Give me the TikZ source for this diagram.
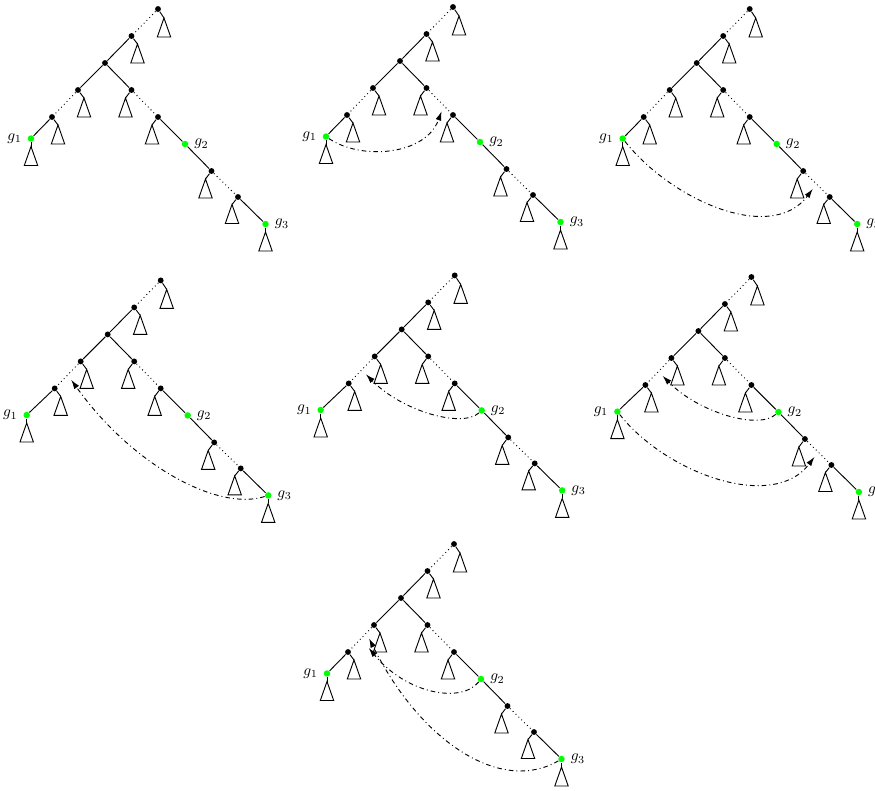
\documentclass[tikz,border=0pt]{standalone}
\usepackage{amsmath}
\usepackage{tikz}
\usetikzlibrary{arrows.meta}

\tikzset{
  dot/.style={circle, fill=black, inner sep=0pt, minimum size=3.8pt},
  gdot/.style={circle, fill=green, inner sep=0pt, minimum size=4.2pt},
  jump/.style={dash dot, -{Latex[length=6pt,width=3.8pt]}, shorten >=4pt},
  pics/roof/.style={code={\draw (0,0) -- (6.7,19) -- (-6.7,19) -- cycle;}},
  pics/gtree/.style={code={
    % inner nodes
    \node[dot] (-a) at (158,9) {};
    \node[dot] (-b) at (131.5,36) {};
    \node[dot] (-c) at (105,63) {};
    \node[dot] (-d) at (78,90) {};
    \node[dot] (-e) at (131.5,90) {};
    \node[dot] (-f) at (52,117) {};
    \node[dot] (-g) at (158,117) {};
    \node[dot] (-h) at (211.5,171) {};
    \node[dot] (-i) at (238,197) {};
    % marked nodes
    \node[gdot, label=left:$g_1$] (-g1) at #1 {};
    \node[gdot, label=right:$g_2$] (-g2) at (185,144) {};
    \node[gdot, label=right:$g_3$] (-g3) at (265.5,224) {};
    % edges
    \draw[dotted] (-a) -- (-b);
    \draw (-b) -- (-c) (-c) -- (-d) (-c) -- (-e);
    \draw[dotted] (-d) -- coordinate[pos=.25] (-df1) coordinate[pos=.5] (-df) (-f);
    \draw[dotted] (-e) -- coordinate[pos=.68] (-eg) (-g);
    \draw (-f) -- (-g1) (-g) -- (-g2) -- (-h) (-i) -- (-g3);
    \draw[dotted] (-h) -- coordinate[pos=.5] (-hi) (-i);
    % subtrees
    \draw (-a) -- ++(6,9) pic {roof};
    \draw (-b) -- ++(6,8) pic {roof};
    \draw (-d) -- ++(6,8) pic {roof};
    \draw (-e) -- ++(-6,8) pic {roof};
    \draw (-f) -- ++(6,8) pic {roof};
    \draw (-g) -- ++(-6,8) pic {roof};
    \draw (-h) -- ++(-6,8) pic {roof};
    \draw (-i) -- ++(-6,7.5) pic {roof};
    \draw (-g1) -- ++(0,8) pic {roof};
    \draw (-g3) -- ++(0,8) pic {roof};
  }}
}

\begin{document}
\begin{tikzpicture}[x=0.65pt, y=-0.65pt, line width=0.6pt]
\useasboundingbox (0,0) rectangle (875,790);

% top row
\pic (t1) at (0,0) {gtree={(31,138.5)}};
\pic (t2) at (295,-2) {gtree={(31,138.5)}};
\pic (t3) at (591.7,0) {gtree={(31,138.5)}};
% middle row
\pic (t4) at (2.7,271.4) {gtree={(24,143.6)}};
\pic (t5) at (296.7,266.4) {gtree={(24,143.6)}};
\pic (t6) at (593.4,268) {gtree={(24,143.6)}};
% bottom row
\pic (t7) at (296,535) {gtree={(31,138.5)}};

% jumps
\draw[jump] (t2-g1) .. controls +(35,24) and +(-18,50) .. (t2-eg);
\draw[jump] (t3-g1) .. controls +(49,62) and +(-45,60) .. (t3-hi);
\draw[jump] (t4-g3) .. controls +(-50,16) and +(65,91) .. (t4-df);
\draw[jump] (t5-g2) .. controls +(-20,18) and +(40,41) .. (t5-df);
\draw[jump] (t6-g2) .. controls +(-20,18) and +(40,41) .. (t6-df);
\draw[jump] (t6-g1) .. controls +(49,62) and +(-45,60) .. (t6-hi);
\draw[jump, shorten >=8pt] (t7-g2) .. controls +(-20,25) and +(45,55) .. (t7-df);
\draw[jump] (t7-g3) .. controls +(-60,35) and +(55,110) .. (t7-df1);

\end{tikzpicture}
\end{document}
